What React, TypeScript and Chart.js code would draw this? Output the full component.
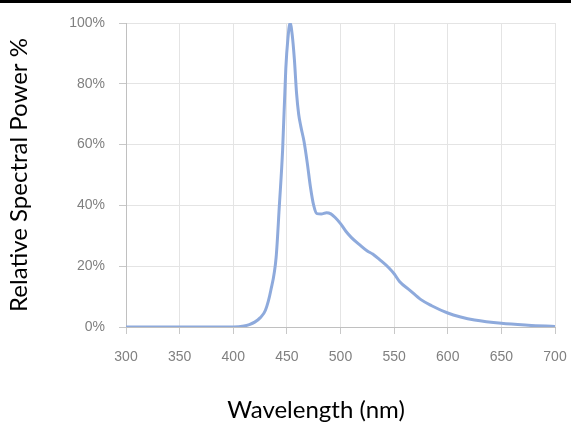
import React, { useEffect, useRef } from "react";
import { Chart, registerables } from "chart.js";

Chart.register(...registerables);

const wavelengths = [300, 350, 400, 410, 415, 420, 425, 430, 435, 440, 443, 446, 449, 451, 453, 455, 457, 459, 461, 463, 466, 469, 472, 475, 478, 482, 487, 491, 495, 500, 505, 510, 518, 525, 530, 537, 545, 550, 555, 565, 575, 585, 600, 612, 625, 650, 675, 700];
const relativePower = [0, 0, 0, 0.3, 0.8, 1.6, 3, 5.5, 12, 23, 40, 58, 85, 95, 100, 96, 88, 77, 70, 66, 61, 54, 46, 40, 37.3, 37.2, 37.6, 37.2, 36, 34, 31.5, 29.5, 27, 25, 24, 22, 19.5, 17.5, 15, 12, 9, 7, 4.6, 3.3, 2.3, 1.2, 0.6, 0.2];
const xTitle = "Wavelength (nm)";
const yTitle = "Relative Spectral Power %";

const extras = {
  id: "extras",
  beforeDraw(chart: any) {
    const ctx = chart.ctx;
    ctx.save();
    ctx.fillStyle = "#000000";
    ctx.fillRect(0, 0, chart.width, 3);
    ctx.restore();
  },
  afterDraw(chart: any) {
    const ctx = chart.ctx;
    ctx.save();
    ctx.fillStyle = "#000000";
    ctx.font = "24px Lato";
    ctx.textAlign = "center";
    ctx.textBaseline = "middle";
    ctx.fillText(xTitle, 316, 410);
    ctx.restore();
  },
};

export default function App() {
  const ref = useRef<HTMLCanvasElement | null>(null);
  useEffect(() => {
    document.body.style.margin = "0";
    const points = wavelengths.map((x, i) => ({ x, y: relativePower[i] }));
    const chart = new Chart(ref.current as HTMLCanvasElement, {
      type: "line",
      data: {
        datasets: [
          {
            data: points,
            borderColor: "#8eaadc",
            borderWidth: 3,
            pointRadius: 0,
            cubicInterpolationMode: "monotone",
            fill: false,
          },
        ],
      },
      options: {
        animation: false,
        responsive: false,
        devicePixelRatio: 1,
        layout: { padding: { left: 0, right: 16, top: 23, bottom: 0 } },
        plugins: { legend: { display: false }, tooltip: { enabled: false } },
        scales: {
          x: {
            type: "linear",
            min: 300,
            max: 700,
            afterFit: (s: any) => {
              s.height = 98;
              s.paddingRight = 0;
              s.paddingLeft = 0;
            },
            ticks: {
              stepSize: 50,
              color: "#808080",
              font: { family: "'Liberation Sans'", size: 14 },
              padding: 15,
            },
            grid: { color: "#e4e4e4", tickColor: "#c8c8c8", tickLength: 7 },
            border: { color: "#c0c0c0", width: 1 },
          },
          y: {
            min: 0,
            max: 100,
            afterFit: (s: any) => {
              s.width = 126;
              s.paddingTop = 0;
              s.paddingBottom = 0;
            },
            ticks: {
              stepSize: 20,
              color: "#808080",
              font: { family: "'Liberation Sans'", size: 14 },
              padding: 14,
              callback: (v: any) => v + "%",
            },
            grid: { color: "#e4e4e4", tickColor: "#c8c8c8", tickLength: 7 },
            border: { color: "#c0c0c0", width: 1 },
            title: {
              display: true,
              text: yTitle,
              color: "#000000",
              font: { family: "Lato", size: 24, weight: "normal" },
              padding: { top: 5, bottom: 0 },
            },
          },
        },
      },
      plugins: [extras],
    } as any);
    return () => chart.destroy();
  }, []);
  return <canvas ref={ref} width={571} height={425} style={{ display: "block" }} />;
}
